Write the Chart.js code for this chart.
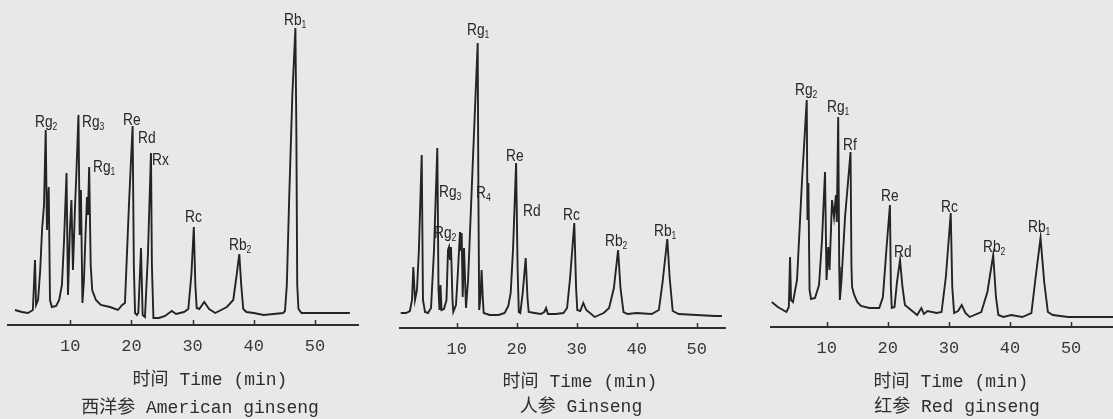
<!DOCTYPE html>
<html><head><meta charset="utf-8">
<script src="https://cdn.jsdelivr.net/npm/chart.js@4.4.1/dist/chart.umd.min.js"></script>
<style>
html,body{margin:0;padding:0;background:#e8e8e8;}
#wrap{position:relative;width:1113px;height:419px;overflow:hidden;background:#e8e8e8;}
.pc{position:absolute;top:0;height:419px;}
.cap{position:absolute;transform:translate(-50%,-50%);white-space:nowrap;font-family:"Liberation Mono","Noto Sans CJK SC",monospace;font-size:18px;color:#2e2e2e;}
</style></head><body>
<div id="wrap">
  <div class="pc" style="left:0;width:370px"><canvas id="c1" width="370" height="419"></canvas></div>
  <div class="pc" style="left:370px;width:380px"><canvas id="c2" width="380" height="419"></canvas></div>
  <div class="pc" style="left:750px;width:363px"><canvas id="c3" width="363" height="419"></canvas></div>
  <div class="cap" style="left:210px;top:377px">时间 Time (min)</div>
  <div class="cap" style="left:200px;top:405px">西洋参 American ginseng</div>
  <div class="cap" style="left:580px;top:379px">时间 Time (min)</div>
  <div class="cap" style="left:581px;top:404px">人参 Ginseng</div>
  <div class="cap" style="left:951px;top:379px">时间 Time (min)</div>
  <div class="cap" style="left:957px;top:404px">红参 Red ginseng</div>
</div>
<script>
// ---- data ----
const tickLabels = [10, 20, 30, 40, 50];

// [time (min), detector signal]
const americanTrace = [[0.98,15],[2.1,13],[3.1,12],[3.9,15],[4.25,65],[4.42,20],[4.75,25],[5.1,55],[5.4,95],[5.72,120],[6.0,195],[6.2,95],[6.49,138],[6.7,25],[7.0,18],[7.7,19],[8.2,25],[8.65,40],[9.0,85],[9.4,152],[9.64,30],[9.95,95],[10.2,125],[10.45,55],[10.8,120],[11.0,150],[11.35,210],[11.55,90],[11.75,135],[12.0,22],[12.25,45],[12.5,90],[12.75,128],[12.9,110],[13.1,158],[13.35,60],[13.6,35],[14.2,25],[15.0,20],[16.5,18],[17.8,15],[18.5,20],[18.95,22],[19.6,120],[20.2,199],[20.4,60],[20.6,12],[20.9,10],[21.13,12],[21.57,77],[21.84,10],[22.22,8],[22.7,70],[23.2,172],[23.35,60],[23.6,7],[24.5,7],[25.5,9],[26.6,14],[27.3,11],[28.6,13],[29.3,16],[29.8,50],[30.2,98],[30.45,40],[30.67,17],[31.1,16],[31.9,23],[32.7,16],[33.7,12],[35.6,18],[36.65,25],[37.2,50],[37.63,71],[37.95,40],[38.28,16],[38.8,13],[40.0,12],[41.6,10],[44.8,12],[45.1,14],[45.4,40],[45.8,130],[46.3,230],[46.8,297],[46.95,200],[47.1,40],[47.3,16],[47.8,12],[50.0,12],[53.0,12],[55.7,12]];
const ginsengTrace = [[0.67,15],[1.55,15],[2.2,17],[2.55,28],[2.77,61],[3.05,28],[3.38,38],[3.7,78],[4.17,173],[4.38,28],[4.72,16],[5.22,15],[5.72,20],[6.22,78],[6.77,180],[6.97,38],[7.13,18],[7.3,43],[7.47,18],[7.88,19],[8.3,28],[8.55,78],[8.72,81],[8.88,68],[9.05,81],[9.3,28],[9.43,16],[9.88,23],[10.22,58],[10.55,96],[10.72,78],[10.83,95],[11.0,31],[11.22,80],[11.55,20],[11.9,48],[12.7,168],[13.5,285],[13.62,130],[13.75,18],[13.95,30],[14.15,58],[14.35,30],[14.5,15],[15.5,13],[17.0,13],[18.0,15],[18.6,22],[19.0,35],[19.4,80],[19.9,165],[20.15,60],[20.35,16],[20.6,15],[21.0,35],[21.5,70],[21.8,30],[22.0,16],[23.0,15],[24.0,14],[24.6,16],[24.9,20],[25.2,14],[26.5,14],[27.8,15],[28.4,20],[28.9,50],[29.6,105],[29.9,40],[30.1,18],[30.6,17],[31.1,25],[31.6,18],[33.0,11],[34.5,15],[35.4,20],[36.2,40],[36.9,78],[37.3,40],[37.8,16],[38.5,14],[40.0,15],[42.5,14],[43.7,18],[44.3,45],[45.1,89],[45.5,50],[46.0,17],[47.0,14],[50.0,13],[53.0,12],[54.2,12]];
const redTrace = [[1.0,25],[2.0,20],[3.4,15],[3.8,20],[4.0,70],[4.16,27],[4.48,25],[5.14,47],[5.96,147],[6.73,227],[6.85,107],[7.0,144],[7.19,37],[7.43,28],[8.08,29],[8.74,42],[9.23,87],[9.72,155],[9.97,47],[10.25,80],[10.46,57],[10.87,127],[11.2,110],[11.5,132],[11.65,105],[11.88,210],[12.05,60],[12.15,27],[12.4,45],[13.0,110],[13.9,175],[14.05,60],[14.15,40],[14.5,32],[15.0,25],[15.6,21],[17.0,19],[18.6,19],[19.2,30],[19.8,80],[20.35,122],[20.5,40],[20.65,19],[21.1,20],[21.5,45],[22.0,67],[22.4,40],[22.8,22],[23.4,19],[24.8,12],[25.5,19],[25.9,13],[26.5,16],[28.0,14],[28.8,15],[29.5,50],[30.3,114],[30.55,40],[30.85,14],[31.5,16],[32.1,22],[32.7,14],[33.4,10],[35.3,15],[36.3,35],[37.25,72],[37.7,30],[38.1,12],[38.9,10],[40.2,12],[42.0,10],[43.5,14],[44.2,50],[45.0,89],[45.6,45],[46.2,15],[47.0,12],[49.5,10],[53.0,10],[56.9,10]];

// peak labels: name, subscript, anchor time, anchor signal
const americanLabelNames = ['Rg','Rg','Rg','Re','Rd','Rx','Rc','Rb','Rb'];
const americanLabelSubs  = ['2','3','1','','','','','2','1'];
const americanLabelTimes = [4.25, 11.93, 13.73, 18.63, 21.08, 23.37, 28.76, 35.95, 44.93];
const americanLabelHeights = [198, 198, 153, 200, 182, 160, 103, 75, 300];

const ginsengLabelNames = ['Rg','Re','Rg','R','Rg','Rd','Rc','Rb','Rb'];
const ginsengLabelSubs  = ['1','','3','4','2','','','2','1'];
const ginsengLabelTimes = [11.72, 18.22, 7.05, 13.22, 6.22, 21.05, 27.72, 34.72, 42.88];
const ginsengLabelHeights = [293, 167, 131, 130, 90, 112, 108, 82, 92];

const redLabelNames = ['Rg','Rg','Rf','Re','Rd','Rc','Rb','Rb'];
const redLabelSubs  = ['2','1','','','','','2','1'];
const redLabelTimes = [4.81, 10.05, 12.67, 18.89, 21.01, 28.71, 35.58, 42.95];
const redLabelHeights = [232, 215, 177, 126, 70, 115, 75, 95];

// ---- rendering ----
const INK = '#242424';

const peakLabelPlugin = {
  id: 'peakLabels',
  afterDatasetsDraw(chart, args, opts) {
    const ctx = chart.ctx, xs = chart.scales.x, ys = chart.scales.y;
    ctx.save();
    ctx.fillStyle = '#262626';
    ctx.textBaseline = 'alphabetic';
    opts.names.forEach((n, i) => {
      const px = xs.getPixelForValue(opts.times[i]);
      const py = ys.getPixelForValue(opts.heights[i]);
      ctx.save();
      ctx.translate(px, py);
      ctx.scale(0.86, 1.05);
      ctx.font = '16px "Liberation Sans", Arial, sans-serif';
      ctx.fillText(n, 0, 0);
      const w = ctx.measureText(n).width;
      if (opts.subs[i]) {
        ctx.font = '10px "Liberation Sans", Arial, sans-serif';
        ctx.fillText(opts.subs[i], w, 3);
      }
      ctx.restore();
    });
    ctx.restore();
  }
};

const tickMarkPlugin = {
  id: 'tickMarks',
  afterDraw(chart) {
    const ctx = chart.ctx, xs = chart.scales.x;
    const yb = chart.chartArea.bottom;
    ctx.save();
    ctx.strokeStyle = '#333';
    ctx.lineWidth = 1.5;
    tickLabels.forEach(v => {
      const px = Math.round(xs.getPixelForValue(v)) + 0.5;
      ctx.beginPath();
      ctx.moveTo(px, yb);
      ctx.lineTo(px, yb - 5);
      ctx.stroke();
    });
    ctx.restore();
  }
};

function makePanel(id, trace, names, subs, times, heights, lay) {
  new Chart(document.getElementById(id), {
    type: 'scatter',
    data: {
      datasets: [{
        data: trace.map(p => ({x: p[0], y: p[1]})),
        showLine: true,
        borderColor: INK,
        borderWidth: 1.9,
        pointRadius: 0,
        tension: 0,
        fill: false
      }]
    },
    options: {
      responsive: false,
      animation: false,
      layout: {padding: {left: lay.padL, right: lay.padR, top: 0, bottom: 0}},
      plugins: {
        legend: {display: false},
        tooltip: {enabled: false},
        peakLabels: {names, subs, times, heights}
      },
      scales: {
        x: {
          type: 'linear',
          min: lay.xmin, max: lay.xmax,
          afterBuildTicks: s => { s.ticks = tickLabels.map(v => ({value: v})); },
          afterFit: s => { s.height = lay.scaleH; },
          grid: {display: false, drawTicks: false},
          border: {display: true, color: '#2e2e2e', width: 2},
          ticks: {
            padding: 11, color: '#383838', autoSkip: false, maxRotation: 0,
            font: {family: '"Liberation Mono", monospace', size: 17},
            callback: v => String(v)
          }
        },
        y: {display: false, min: 0, max: lay.ymax}
      }
    },
    plugins: [peakLabelPlugin, tickMarkPlugin]
  });
}

makePanel('c1', americanTrace, americanLabelNames, americanLabelSubs, americanLabelTimes, americanLabelHeights,
  {padL: 8, padR: 12, xmin: -0.163, xmax: 57.03, ymax: 325, scaleH: 94});
makePanel('c2', ginsengTrace, ginsengLabelNames, ginsengLabelSubs, ginsengLabelTimes, ginsengLabelHeights,
  {padL: 30, padR: 25, xmin: 0.55, xmax: 54.72, ymax: 328, scaleH: 91});
makePanel('c3', redTrace, redLabelNames, redLabelSubs, redLabelTimes, redLabelHeights,
  {padL: 21, padR: 0, xmin: 0.88, xmax: 56.86, ymax: 327, scaleH: 92});
</script>
</body></html>
